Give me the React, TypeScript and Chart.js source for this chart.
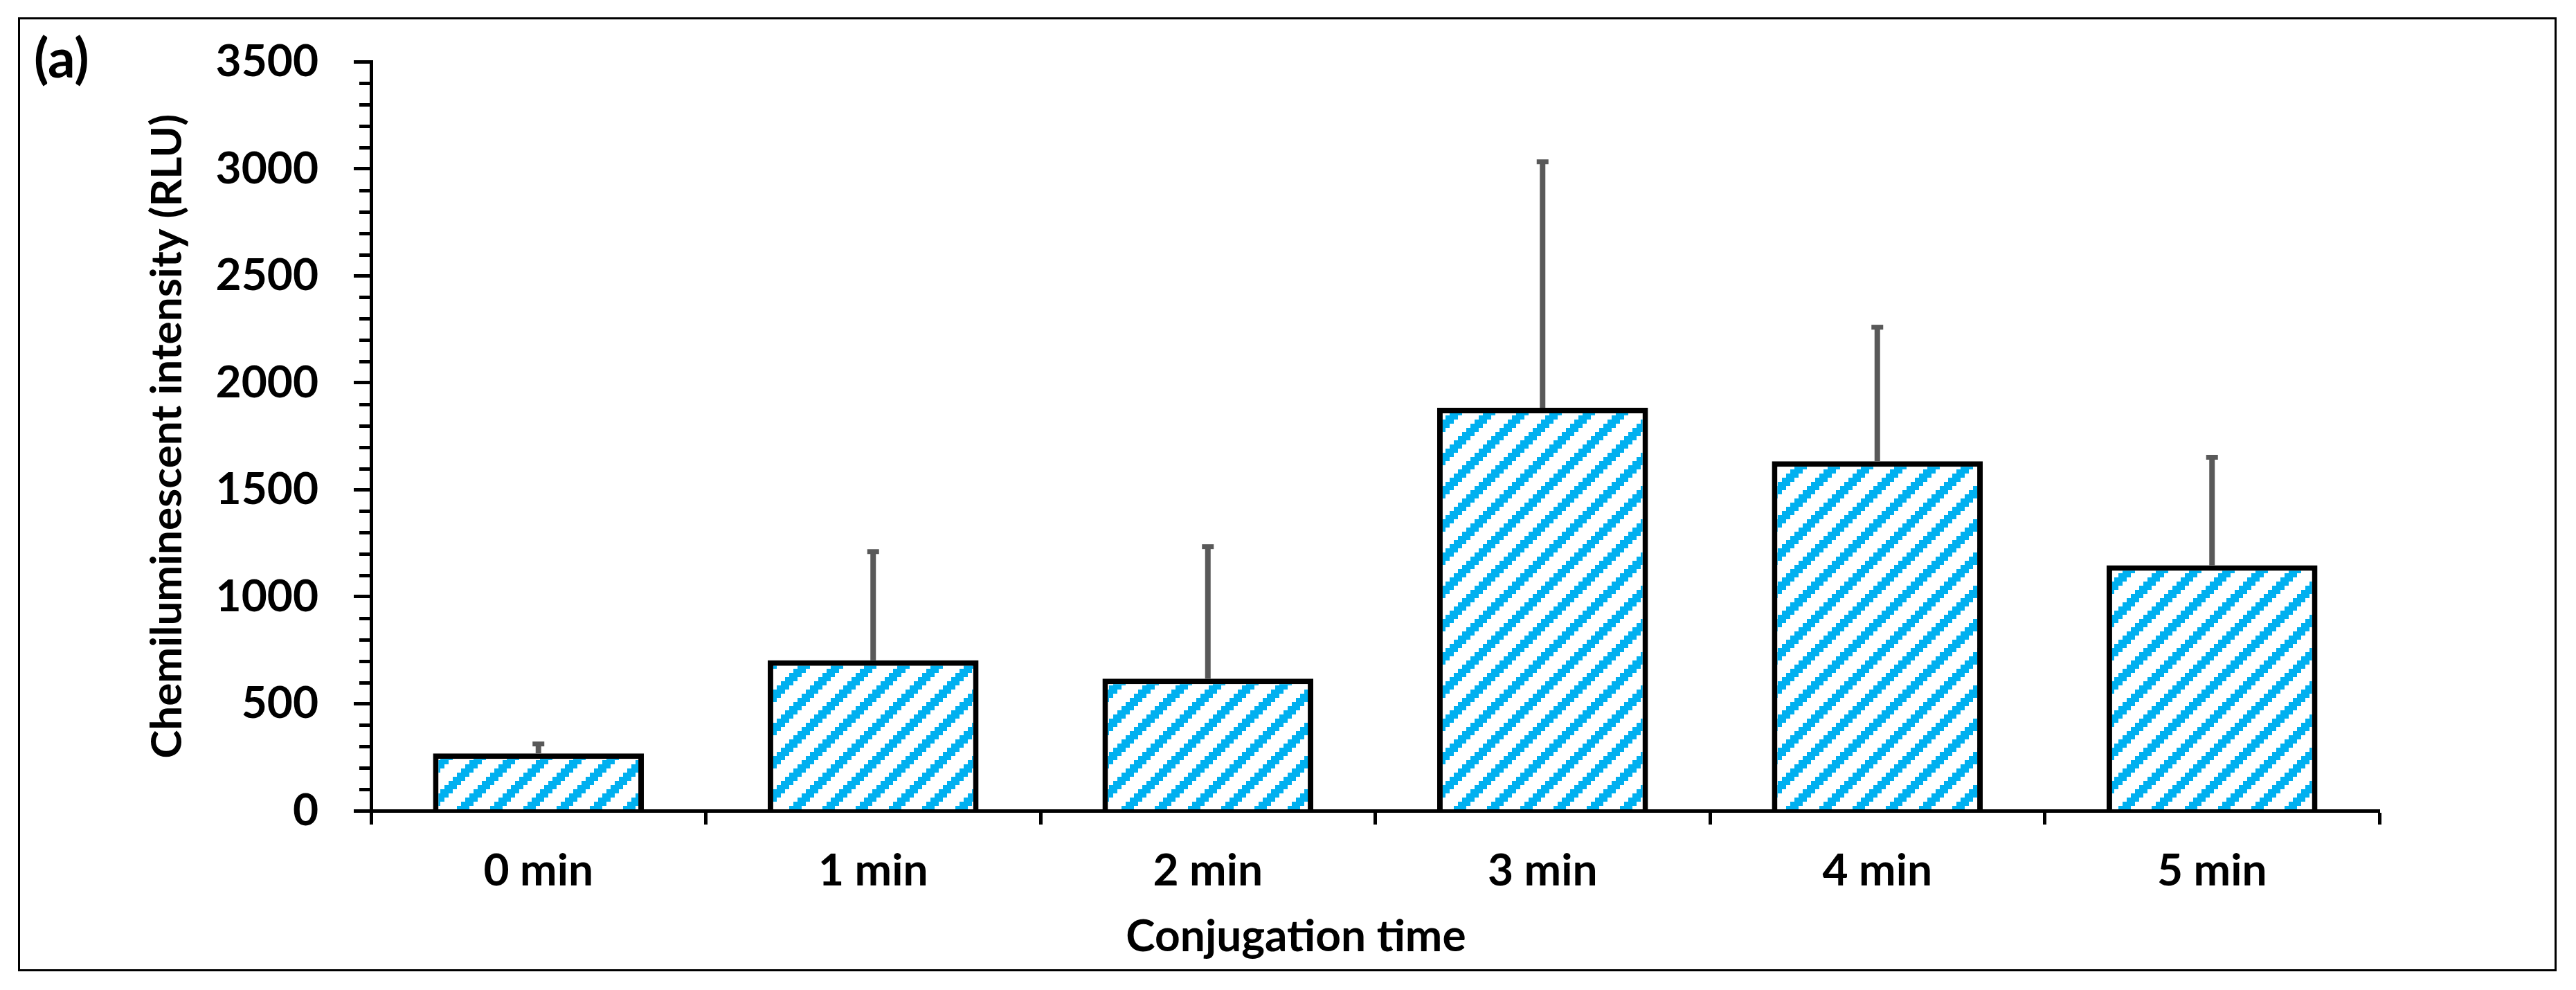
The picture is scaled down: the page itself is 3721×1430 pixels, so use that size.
import React, { useEffect, useRef } from 'react';
import { Chart, registerables } from 'chart.js';

Chart.register(...registerables);

const categories: string[] = ['0 min', '1 min', '2 min', '3 min', '4 min', '5 min'];
const meanValues: number[] = [268, 703, 617, 1883, 1633, 1147];
const errorValues: number[] = [44, 508, 617, 1150, 627, 505];
const yMin = 0;
const yMax = 3500;
const yMajorStep = 500;
const yMinorStep = 100;
const xTitle = 'Conjugation time';
const yTitle = 'Chemiluminescent intensity (RLU)';
const panelLabel = '(a)';

const FONT = 'Lato';

function makePattern(ctx: CanvasRenderingContext2D): CanvasPattern | string {
  const cell = 6;
  const n = 8;
  const tile = document.createElement('canvas');
  tile.width = cell * n;
  tile.height = cell * n;
  const t = tile.getContext('2d')!;
  t.fillStyle = '#ffffff';
  t.fillRect(0, 0, tile.width, tile.height);
  t.fillStyle = '#00B0F0';
  for (let i = 0; i < n; i++) {
    for (let j = 0; j < n; j++) {
      const k = (i + j) % n;
      if (k === 0 || k === 1 || k === 2) t.fillRect(i * cell, j * cell, cell, cell);
    }
  }
  return ctx.createPattern(tile, 'repeat') || '#00B0F0';
}

const decorPlugin = {
  id: 'decor',
  afterDraw(chart: any) {
    const ctx: CanvasRenderingContext2D = chart.ctx;
    const W = chart.width;
    const H = chart.height;
    ctx.save();
    // outer frame
    ctx.strokeStyle = '#000';
    ctx.lineWidth = 3;
    ctx.strokeRect(27.5, 26.5, W - 27 - 29 - 1, H - 26 - 28 - 1);
    // panel label
    ctx.fillStyle = '#000';
    ctx.font = `bold 78px ${FONT}`;
    ctx.textAlign = 'left';
    ctx.textBaseline = 'alphabetic';
    ctx.fillText(panelLabel, 49, 112);
    // x axis title
    ctx.font = `bold 64px ${FONT}`;
    ctx.textAlign = 'center';
    ctx.textBaseline = 'middle';
    ctx.fillText(xTitle, 1872, 1353);
    // minor ticks on the y axis
    const ys = chart.scales.y;
    ctx.strokeStyle = '#000';
    ctx.lineWidth = 5;
    for (let v = yMin; v <= yMax; v += yMinorStep) {
      if (v % yMajorStep === 0) continue;
      const py = Math.round(ys.getPixelForValue(v)) + 0.5;
      ctx.beginPath();
      ctx.moveTo(ys.right - 17, py);
      ctx.lineTo(ys.right - 2, py);
      ctx.stroke();
    }
    ctx.restore();
  },
};

const errorBarPlugin = {
  id: 'errorBars',
  afterDatasetsDraw(chart: any) {
    const ctx: CanvasRenderingContext2D = chart.ctx;
    const ys = chart.scales.y;
    const meta = chart.getDatasetMeta(0);
    ctx.save();
    ctx.strokeStyle = '#595959';
    ctx.fillStyle = '#595959';
    ctx.lineWidth = 8;
    meta.data.forEach((el: any, i: number) => {
      const x = el.x;
      const yBase = ys.getPixelForValue(meanValues[i]);
      const yTop = ys.getPixelForValue(meanValues[i] + errorValues[i]);
      ctx.beginPath();
      ctx.moveTo(x, yBase);
      ctx.lineTo(x, yTop);
      ctx.stroke();
      ctx.fillRect(x - 8.5, yTop - 3.5, 17, 7);
    });
    ctx.restore();
  },
};

export default function App() {
  const ref = useRef<HTMLCanvasElement | null>(null);

  useEffect(() => {
    document.body.style.margin = '0';
    const canvas = ref.current!;
    const ctx = canvas.getContext('2d')!;
    const pattern = makePattern(ctx);

    const chart = new Chart(ctx, {
      type: 'bar',
      data: {
        labels: categories,
        datasets: [
          {
            data: meanValues,
            backgroundColor: pattern as any,
            borderColor: '#000000',
            borderWidth: 8,
            barPercentage: 0.63,
            categoryPercentage: 1,
          },
        ],
      },
      options: {
        responsive: false,
        animation: false,
        devicePixelRatio: 1,
        layout: { padding: { top: 76, right: 284, bottom: 0, left: 0 } },
        plugins: {
          legend: { display: false },
          tooltip: { enabled: false },
        },
        scales: {
          x: {
            type: 'category',
            afterFit: (s: any) => {
              s.height = 259;
            },
            grid: {
              display: true,
              offset: true,
              drawOnChartArea: false,
              drawTicks: true,
              tickLength: 20,
              tickWidth: 5,
              tickColor: '#000',
            },
            border: { display: true, color: '#000', width: 5, z: 1 },
            ticks: {
              color: '#000',
              padding: 29,
              font: { family: FONT, size: 64, weight: 'bold' },
            },
          },
          y: {
            min: yMin,
            max: yMax,
            afterFit: (s: any) => {
              s.width = 536;
            },
            grid: {
              display: true,
              drawOnChartArea: false,
              drawTicks: true,
              tickLength: 25,
              tickWidth: 5,
              tickColor: '#000',
            },
            border: { display: true, color: '#000', width: 5, z: 1 },
            ticks: {
              stepSize: yMajorStep,
              color: '#000',
              padding: 51,
              font: { family: FONT, size: 64, weight: 'bold' },
              callback: (v: any) => String(v),
            },
            title: {
              display: true,
              text: yTitle,
              color: '#000',
              padding: { top: 205, bottom: 0 },
              font: { family: FONT, size: 62, weight: 'bold' },
            },
          },
        },
      },
      plugins: [errorBarPlugin, decorPlugin],
    });

    return () => {
      chart.destroy();
    };
  }, []);

  return (
    <div style={{ width: 3721, height: 1430, background: '#fff' }}>
      <canvas ref={ref} width={3721} height={1430} style={{ display: 'block', width: 3721, height: 1430 }} />
    </div>
  );
}
